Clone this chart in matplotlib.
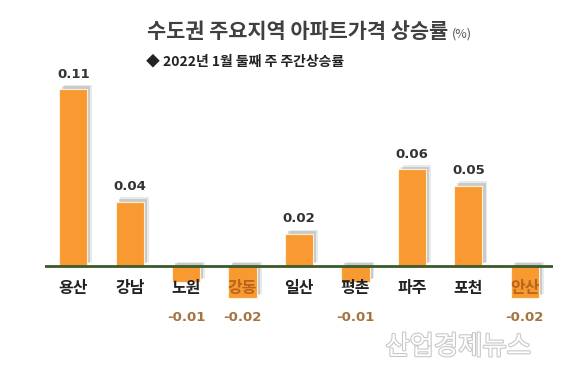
import matplotlib
matplotlib.use("Agg")
import matplotlib.pyplot as plt
import matplotlib.patheffects as pe
import numpy as np

plt.rcParams["font.family"] = ["Noto Sans CJK KR", "DejaVu Sans"]

# --- data (weekly change, %) ---
REGIONS = ["용산", "강남", "노원", "강동", "일산", "평촌", "파주", "포천", "안산"]
CHANGES = [0.11, 0.04, -0.01, -0.02, 0.02, -0.01, 0.06, 0.05, -0.02]

TITLE = "수도권 주요지역 아파트가격 상승률"
UNIT = "(%)"
SUBTITLE = "◆ 2022년 1월 둘째 주 주간상승률"
WATERMARK = "산업경제뉴스"

BAR_COLOR = "#F89A31"
POS_LABEL = "#333333"
NEG_LABEL = "#A5733F"

fig = plt.figure(figsize=(5.67, 3.85), dpi=100)
ax = fig.add_axes([0.0794, 0.1626, 0.896, 0.6483])

x = np.arange(len(REGIONS))
bars = ax.bar(x, CHANGES, width=0.5, color=BAR_COLOR, edgecolor="#FFF0D8",
              linewidth=0.8, zorder=2)
# soft drop shadow (up and to the right)
for b in bars:
    b.set_path_effects([
        pe.SimplePatchShadow(offset=(3.5, 3.0), shadow_rgbFace="#888888", alpha=0.18),
        pe.SimplePatchShadow(offset=(2.2, 2.0), shadow_rgbFace="#777777", alpha=0.28),
        pe.Normal(),
    ])

ax.axhline(0, color="#3B5A2A", lw=2, zorder=3)

ax.set_xlim(-0.5, len(REGIONS) - 0.5)
ax.set_ylim(-0.035, 0.12)
ax.axis("off")

# value labels: above positive bars, below the category row for negatives
for xi, v in zip(x, CHANGES):
    if v >= 0:
        ax.annotate(f"{v:.2f}", (xi, v), textcoords="offset points", xytext=(0, 6),
                    ha="center", va="bottom", fontsize=9.5, fontweight="bold",
                    color=POS_LABEL, family="DejaVu Sans", zorder=4)
    else:
        ax.text(xi, -0.0322, f"{v:.2f}", ha="center", va="center", fontsize=9.5,
                fontweight="bold", color=NEG_LABEL, family="DejaVu Sans", zorder=4)

# category labels (dark orange where they sit inside a deep negative bar)
for xi, name, v in zip(x, REGIONS, CHANGES):
    col = "#B8651A" if v <= -0.02 else "#222222"
    ax.text(xi, -0.0135, name, ha="center", va="center", fontsize=11.5,
            fontweight="bold", color=col, zorder=5)

# titles
title = fig.text(0.259, 0.917, TITLE, ha="left", va="center", fontsize=15,
                 fontweight="bold", color="#404040")
ax.annotate(UNIT, xy=(1, 0.42), xycoords=title, xytext=(3, 0),
            textcoords="offset points", ha="left", va="center", fontsize=9,
            color="#555555")
fig.text(0.257, 0.839, SUBTITLE, ha="left", va="center", fontsize=10,
         fontweight="bold", color="#222222")

# watermark
fig.text(0.808, 0.099, WATERMARK, ha="center", va="center", fontsize=19,
         color="white", zorder=1,
         path_effects=[pe.withStroke(linewidth=1.6, foreground="#C8C8C8")])

fig.savefig("out.png", dpi=100, facecolor="white")
